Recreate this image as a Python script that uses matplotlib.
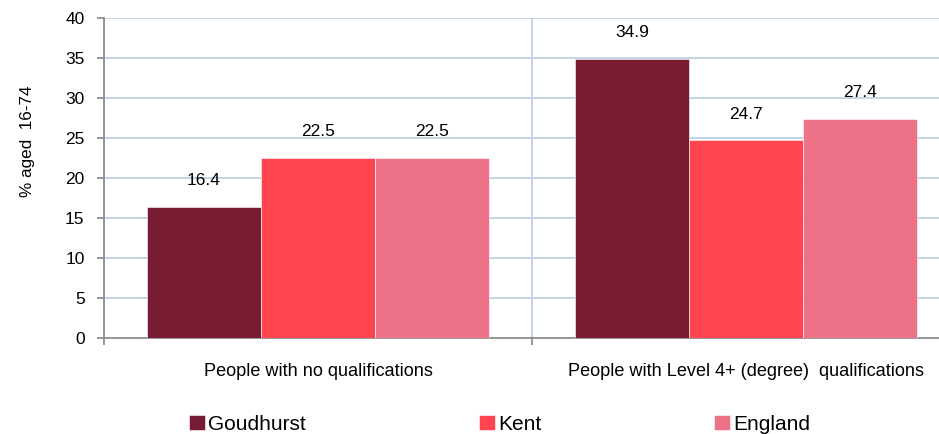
import numpy as np
import matplotlib.pyplot as plt

plt.rcParams['font.family'] = ['Liberation Sans', 'DejaVu Sans']

categories = ['People with no qualifications', 'People with Level 4+ (degree)  qualifications']
areas = ['Goudhurst', 'Kent', 'England']
goudhurst = [16.4, 34.9]
kent = [22.5, 24.7]
england = [22.5, 27.4]
colours = ['#771C33', '#FF444F', '#EE7287']
yticks = [0, 5, 10, 15, 20, 25, 30, 35, 40]

W, H = 939, 434
fig = plt.figure(figsize=(W / 100, H / 100), dpi=100)
ax = fig.add_axes([104 / W, (H - 338) / H, (960 - 104) / W, 320 / H])

x = np.arange(len(categories))
bw = 0.8 / 3
for i, (vals, col, name) in enumerate(zip([goudhurst, kent, england], colours, areas)):
    bars = ax.bar(x + (i - 1) * bw, vals, bw, color=col, label=name, zorder=3,
                  edgecolor='white', linewidth=0.4)
    for b, v in zip(bars, vals):
        ax.annotate(f'{v:.1f}', (b.get_x() + b.get_width() / 2, v), xytext=(0, 19),
                    textcoords='offset points', ha='center', va='center', fontsize=12.5)

ax.set_xlim(-0.5, len(categories) - 0.5)
ax.set_ylim(0, 40)
ax.set_yticks(yticks)
ax.set_xticks(x)
ax.set_xticklabels(categories, fontsize=13.1)
ax.set_xticks(np.arange(len(categories) + 1) - 0.5, minor=True)
ax.tick_params(axis='x', which='major', length=0, pad=18)
ax.tick_params(axis='x', which='minor', length=5, color='#888888', width=1.2)
ax.tick_params(axis='y', length=5, color='#888888', width=1.2, labelsize=12.5, pad=9)

ax.grid(axis='y', color='#B9CDE5', linewidth=1.2, zorder=0)
ax.grid(axis='x', which='minor', color='#B9CDE5', linewidth=1.2, zorder=0)
for s in ['top', 'right']:
    ax.spines[s].set_visible(False)
for s in ['left', 'bottom']:
    ax.spines[s].set_color('#888888')
    ax.spines[s].set_linewidth(1.2)

ax.set_ylabel('% aged  16-74', fontsize=12.3)
ax.yaxis.set_label_coords(-0.081, 0.616)

fig.legend(loc='center left', bbox_to_anchor=(189 / W, 1 - 424 / H), ncol=3, frameon=False,
           fontsize=15, borderpad=0, borderaxespad=0, handlelength=0.77, handleheight=0.72,
           handletextpad=0.15, columnspacing=8.3)

fig.savefig('out.png', dpi=100)
